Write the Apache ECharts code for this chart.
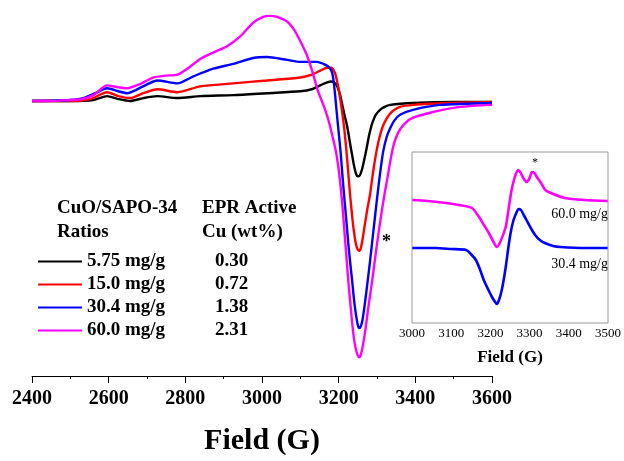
<!DOCTYPE html>
<html><head><meta charset="utf-8">
<script src="https://cdn.jsdelivr.net/npm/echarts@6/dist/echarts.min.js"></script>
<style>html,body{margin:0;padding:0;background:#fff}#c{width:624px;height:461px}</style>
</head><body><div id="c"></div>
<script>
const FONT = 'Liberation Serif, Times New Roman, serif';
const seriesNames = ['5.75 mg/g', '15.0 mg/g', '30.4 mg/g', '60.0 mg/g'];
const cuWt = ['0.30', '0.72', '1.38', '2.31'];
const colors = ['#000000', '#ff0000', '#0000ff', '#ff00ff'];
const mainTicks = [2400, 2600, 2800, 3000, 3200, 3400, 3600];
const insetTicks = [3000, 3100, 3200, 3300, 3400, 3500];

const black = [[2400,0],[2500,0],[2560,1],[2596,5],[2625,2],[2656,0],[2690,3],[2727,5],[2779,3],[2839,5],[2925,6],[3013,8],[3100,10],[3130,12],[3152,16],[3170,19],[3180,20],[3188,19],[3195,16],[3200,11],[3205,4],[3210,-5],[3215,-14],[3220,-22],[3225,-32],[3230,-44],[3235,-55],[3240,-66],[3245,-74],[3250,-77],[3255,-76],[3260,-71],[3265,-63],[3270,-54],[3275,-44],[3280,-34],[3285,-26],[3290,-20],[3297,-14],[3308,-9],[3320,-6],[3334,-4],[3394,-2],[3500,-1],[3600,-1]];
const red = [[2400,0],[2500,0],[2552,2],[2596,9],[2625,5],[2656,3],[2690,8],[2727,12],[2779,9],[2839,15],[2925,18],[3013,21],[3100,24],[3130,27],[3152,31],[3170,34],[3180,34],[3186,32],[3191,28],[3196,20],[3200,12],[3205,0],[3210,-14],[3215,-30],[3220,-50],[3225,-73],[3230,-97],[3235,-117],[3240,-134],[3245,-146],[3250,-152],[3254,-153],[3258,-150],[3262,-142],[3266,-132],[3270,-122],[3275,-110],[3282,-95],[3290,-72],[3297,-55],[3303,-43],[3310,-32],[3316,-25],[3325,-18],[3334,-13],[3342,-10],[3360,-6],[3394,-4],[3483,-2],[3600,-1]];
const blue = [[2400,0],[2500,1],[2534,3],[2565,8],[2596,13],[2625,10],[2648,8],[2690,15],[2727,21],[2779,18],[2820,25],[2873,33],[2925,38],[2977,44],[3013,45],[3066,42],[3100,40],[3144,40],[3160,38],[3170,36],[3178,33],[3183,29],[3187,20],[3191,5],[3195,-12],[3200,-32],[3205,-52],[3210,-77],[3215,-100],[3220,-122],[3225,-145],[3230,-165],[3235,-183],[3240,-203],[3245,-218],[3250,-229],[3254,-232],[3258,-230],[3262,-224],[3268,-208],[3275,-186],[3282,-163],[3290,-135],[3300,-100],[3308,-74],[3316,-52],[3325,-37],[3334,-28],[3345,-20],[3360,-14],[3394,-9],[3464,-4],[3600,-2]];
const magenta = [[2400,0],[2450,0],[2500,1],[2530,2],[2560,6],[2596,16],[2625,14],[2648,13],[2680,17],[2716,24],[2750,26],[2779,27],[2805,33],[2839,43],[2875,50],[2909,56],[2943,66],[2977,80],[3003,86],[3020,87],[3039,86],[3066,81],[3085,72],[3100,61],[3118,46],[3133,28],[3140,18],[3147,9],[3155,1],[3160,-4],[3168,-13],[3175,-22],[3185,-38],[3193,-52],[3200,-70],[3205,-87],[3210,-108],[3215,-133],[3220,-158],[3225,-183],[3230,-205],[3235,-226],[3240,-243],[3245,-254],[3250,-260],[3254,-262],[3258,-259],[3263,-250],[3270,-233],[3277,-212],[3284,-193],[3290,-176],[3300,-146],[3307,-127],[3313,-111],[3321,-92],[3328,-77],[3334,-63],[3342,-47],[3350,-37],[3360,-29],[3375,-22],[3394,-17],[3438,-12],[3499,-7],[3550,-5],[3600,-4]];

const insetMagenta = [[3000,50],[3040,49],[3088,47],[3120,45],[3153,42],[3171,33],[3185,24],[3196,17],[3208,8],[3216,3],[3225,8],[3239,23],[3246,40],[3254,60],[3260,70],[3266,77],[3271,80],[3276,78],[3284,72],[3292,68],[3300,72],[3306,78],[3312,77],[3320,72],[3329,67],[3340,60],[3354,57],[3390,52],[3440,50],[3500,49]];
const insetBlue = [[3000,2],[3060,2],[3100,1],[3138,0],[3150,-4],[3163,-10],[3173,-19],[3183,-30],[3195,-40],[3204,-47],[3212,-52],[3216,-54],[3222,-50],[3229,-40],[3238,-20],[3246,3],[3252,18],[3259,30],[3266,37],[3272,41],[3278,40],[3285,35],[3292,30],[3303,22],[3314,15],[3326,10],[3339,7],[3360,4],[3379,3],[3440,2],[3500,2]];

const mainSets = [black, red, blue, magenta];

const series = mainSets.map((d, i) => ({
  name: seriesNames[i], type: 'line', data: d, xAxisIndex: 0, yAxisIndex: 0,
  showSymbol: false, smooth: 0.25,
  lineStyle: { color: colors[i], width: 2.4 }, itemStyle: { color: colors[i] },
  z: 2 + i
}));
series.push({
  name: 'inset 60.0', type: 'line', data: insetMagenta, xAxisIndex: 1, yAxisIndex: 1,
  showSymbol: false, smooth: 0.25,
  lineStyle: { color: '#ff00ff', width: 2.6 }, itemStyle: { color: '#ff00ff' }
});
series.push({
  name: 'inset 30.4', type: 'line', data: insetBlue, xAxisIndex: 1, yAxisIndex: 1,
  showSymbol: false, smooth: 0.25,
  lineStyle: { color: '#0000ff', width: 2.6 }, itemStyle: { color: '#0000ff' }
});

const chart = echarts.init(document.getElementById('c'), null, { renderer: 'canvas' });
chart.setOption({
  animation: false,
  backgroundColor: '#ffffff',
  textStyle: { fontFamily: FONT },
  grid: [
    { left: 32, width: 460, top: 10, height: 374, containLabel: false },
    { left: 412, width: 199, top: 152, height: 171, show: true, borderColor: '#9a9a9a', borderWidth: 1, backgroundColor: 'transparent', z: 10 }
  ],
  xAxis: [
    { type: 'value', gridIndex: 0, min: 2400, max: 3600, interval: 200,
      axisLine: { show: true, onZero: false, lineStyle: { color: '#000', width: 1 } },
      axisTick: { show: true, length: 7, lineStyle: { color: '#000' } },
      minorTick: { show: true, splitNumber: 2, length: 3, lineStyle: { color: '#000' } },
      splitLine: { show: false },
      axisLabel: { margin: 13, fontSize: 20, fontWeight: 'bold', color: '#000', fontFamily: FONT,
        formatter: v => mainTicks.includes(v) ? String(v) : '' },
      name: 'Field (G)', nameLocation: 'middle', nameGap: 50,
      nameTextStyle: { fontSize: 30, fontWeight: 'bold', color: '#000', fontFamily: FONT } },
    { type: 'value', gridIndex: 1, min: 3000, max: 3500, interval: 100,
      axisLine: { show: false, onZero: false }, axisTick: { show: false }, splitLine: { show: false },
      axisLabel: { margin: 4, fontSize: 13, color: '#000', fontFamily: FONT,
        formatter: v => insetTicks.includes(v) ? String(v) : '' },
      name: 'Field (G)', nameLocation: 'middle', nameGap: 26,
      nameTextStyle: { fontSize: 17, fontWeight: 'bold', color: '#000', fontFamily: FONT } }
  ],
  yAxis: [
    { type: 'value', gridIndex: 0, min: -281, max: 93, show: false, splitLine: { show: false } },
    { type: 'value', gridIndex: 1, min: -73, max: 98, show: false, splitLine: { show: false } }
  ],
  legend: {
    data: seriesNames, orient: 'vertical', left: 33, top: 247,
    icon: 'rect', itemWidth: 44, itemHeight: 2, itemGap: 4,
    formatter: name => '{a|' + name + '}{b|' + cuWt[seriesNames.indexOf(name)] + '}',
    textStyle: {
      fontFamily: FONT, color: '#000',
      rich: {
        a: { width: 128, fontSize: 19, fontWeight: 'bold', fontFamily: FONT, color: '#000', lineHeight: 20 },
        b: { fontSize: 19, fontWeight: 'bold', fontFamily: FONT, color: '#000', lineHeight: 20 }
      }
    },
    selectedMode: false
  },
  graphic: [
    { type: 'text', left: 57, top: 199, style: { text: 'CuO/SAPO-34', font: 'bold 19px ' + FONT, fill: '#000' } },
    { type: 'text', left: 57, top: 223, style: { text: 'Ratios', font: 'bold 19px ' + FONT, fill: '#000' } },
    { type: 'text', left: 202, top: 199, style: { text: 'EPR Active', font: 'bold 19px ' + FONT, fill: '#000' } },
    { type: 'text', left: 202, top: 223, style: { text: 'Cu (wt%)', font: 'bold 19px ' + FONT, fill: '#000' } },
    { type: 'text', left: 382, top: 233, style: { text: '*', font: 'bold 18px ' + FONT, fill: '#000' } },
    { type: 'text', left: 532, top: 157, style: { text: '*', font: '12px ' + FONT, fill: '#000' } },
    { type: 'text', right: 16, top: 207, style: { text: '60.0 mg/g', font: '14px ' + FONT, fill: '#000' } },
    { type: 'text', right: 16, top: 257, style: { text: '30.4 mg/g', font: '14px ' + FONT, fill: '#000' } }
  ],
  series: series
});
</script></body></html>
